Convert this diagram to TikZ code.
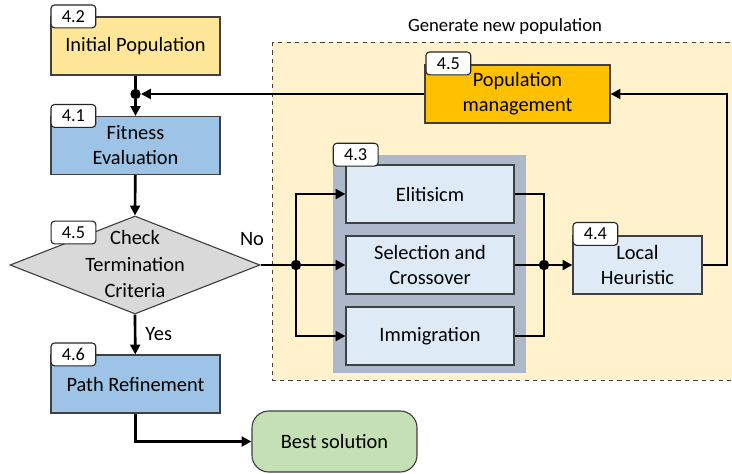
\documentclass[tikz,border=0pt]{standalone}
\usepackage{fontspec}
\setmainfont{Carlito}
\usepackage{xcolor}
\usepackage{tikz}
\usetikzlibrary{shapes, arrows.meta, positioning, calc}

\definecolor{initcol}{HTML}{FFE699}
\definecolor{evalcol}{HTML}{9DC3E6}
\definecolor{checkcol}{HTML}{D9D9D9}
\definecolor{bestcol}{HTML}{C5E0B4}
\definecolor{genbg}{HTML}{FFF2CC}
\definecolor{popcol}{HTML}{FFC000}
\definecolor{groupcol}{HTML}{ADB9CA}
\definecolor{opcol}{HTML}{DEEBF7}

\tikzset{
  block/.style={draw=black!75, line width=0.8pt, inner sep=0pt, align=center,
    minimum height=1.45cm, font=\fontsize{14.5}{17.8}\selectfont},
  badge/.style={draw=black!85, fill=white, rounded corners=2.5pt, line width=0.8pt,
    minimum width=1.12cm, minimum height=0.57cm, inner sep=0pt,
    font=\fontsize{13}{15}\selectfont},
  conn/.style={line width=1.9pt, black},
  arr/.style={conn, -{Triangle[length=7pt, width=7pt]}},
  junction/.style={circle, fill=black, inner sep=0pt, minimum size=0.26cm}
}

\begin{document}
\begin{tikzpicture}[x=0.025cm, y=-0.025cm]
  \useasboundingbox (0,0) rectangle (732,474);

  % Region for the new population
  \draw[dashed, black!75, line width=0.6pt, fill=genbg] (272,42) rectangle (745,380);
  \node[font=\fontsize{13.3}{15}\selectfont] (genlabel) at (505,27) {Generate new population};

  % Main flow
  \node[block, fill=initcol, minimum width=4.225cm] (init) at (135.5,46) {Initial Population};
  \node[block, fill=evalcol, minimum width=4.225cm] (fit) at (135.5,145.5) {Fitness\\Evaluation};
  \node[draw=black!75, line width=0.8pt, fill=checkcol, diamond, inner sep=0pt,
    minimum width=6.25cm, minimum height=2.45cm] (check) at (135,265) {};
  \node[align=center, font=\fontsize{14.5}{18.5}\selectfont] (checktext) at (135,264) {Check\\Termination\\Criteria};
  \node[block, fill=evalcol, minimum width=4.225cm] (path) at (135.5,384) {Path Refinement};
  \node[block, fill=bestcol, rounded corners=12pt, minimum width=4.125cm, minimum height=1.525cm] (best) at (334.5,441.5) {Best solution};

  % Generation operators
  \node[fill=groupcol, minimum width=4.825cm, minimum height=5.45cm, inner sep=0pt] (ops) at (429.5,264) {};
  \node[block, fill=opcol, minimum width=4.2cm] (elit) at (430,194) {Elitisicm};
  \node[block, fill=opcol, minimum width=4.2cm] (sel) at (430,265) {Selection and\\Crossover};
  \node[block, fill=opcol, minimum width=4.2cm] (imm) at (430,336) {Immigration};
  \node[block, fill=opcol, minimum width=3.225cm] (local) at (637.5,265) {Local\\Heuristic};
  \node[block, fill=popcol, minimum width=4.625cm] (pop) at (517.5,94) {Population\\management};

  % Badges
  \node[badge, anchor=west] (b42) at (init.north west) {4.2};
  \node[badge, anchor=west] (b41) at (fit.north west) {4.1};
  \node[badge] (b45a) at (73.5,232.5) {4.5};
  \node[badge, anchor=west] (b46) at (path.north west) {4.6};
  \node[badge, anchor=west] (b43) at (ops.north west) {4.3};
  \node[badge, anchor=west] (b44) at ($(local.north west)+(0,-1.5)$) {4.4};
  \node[badge, anchor=west] (b45b) at ($(pop.north west)+(1,-1)$) {4.5};

  % Junctions
  \node[junction] (feed) at (135.5,94) {};
  \node[junction] (split) at (296,265) {};
  \node[junction] (merge) at (544,265) {};
  \coordinate (loopR) at (727,265);

  % Connectors
  \draw[conn] (init) -- (feed);
  \draw[arr] (feed) -- (fit);
  \draw[arr] (fit) -- (check.north);
  \draw[arr] (pop.west) -- (feed);
  \draw[arr] (check.south) -- node[right=3pt, font=\fontsize{14.5}{17}\selectfont] (yes) {Yes} (path);
  \draw[conn] (check.east) -- (split);
  \draw[arr] (split) |- (elit.west);
  \draw[arr] (split) -- (sel.west);
  \draw[arr] (split) |- (imm.west);
  \draw[conn] (elit.east) -| (merge);
  \draw[conn] (sel.east) -- (merge);
  \draw[conn] (imm.east) -| (merge);
  \draw[arr] (merge) -- (local.west);
  \draw[arr] (local.east) -- (loopR) |- (pop.east);
  \draw[arr] (path.south) |- (best.west);
  \node[font=\fontsize{14.5}{17}\selectfont] (no) at (252,239) {No};
\end{tikzpicture}
\end{document}
